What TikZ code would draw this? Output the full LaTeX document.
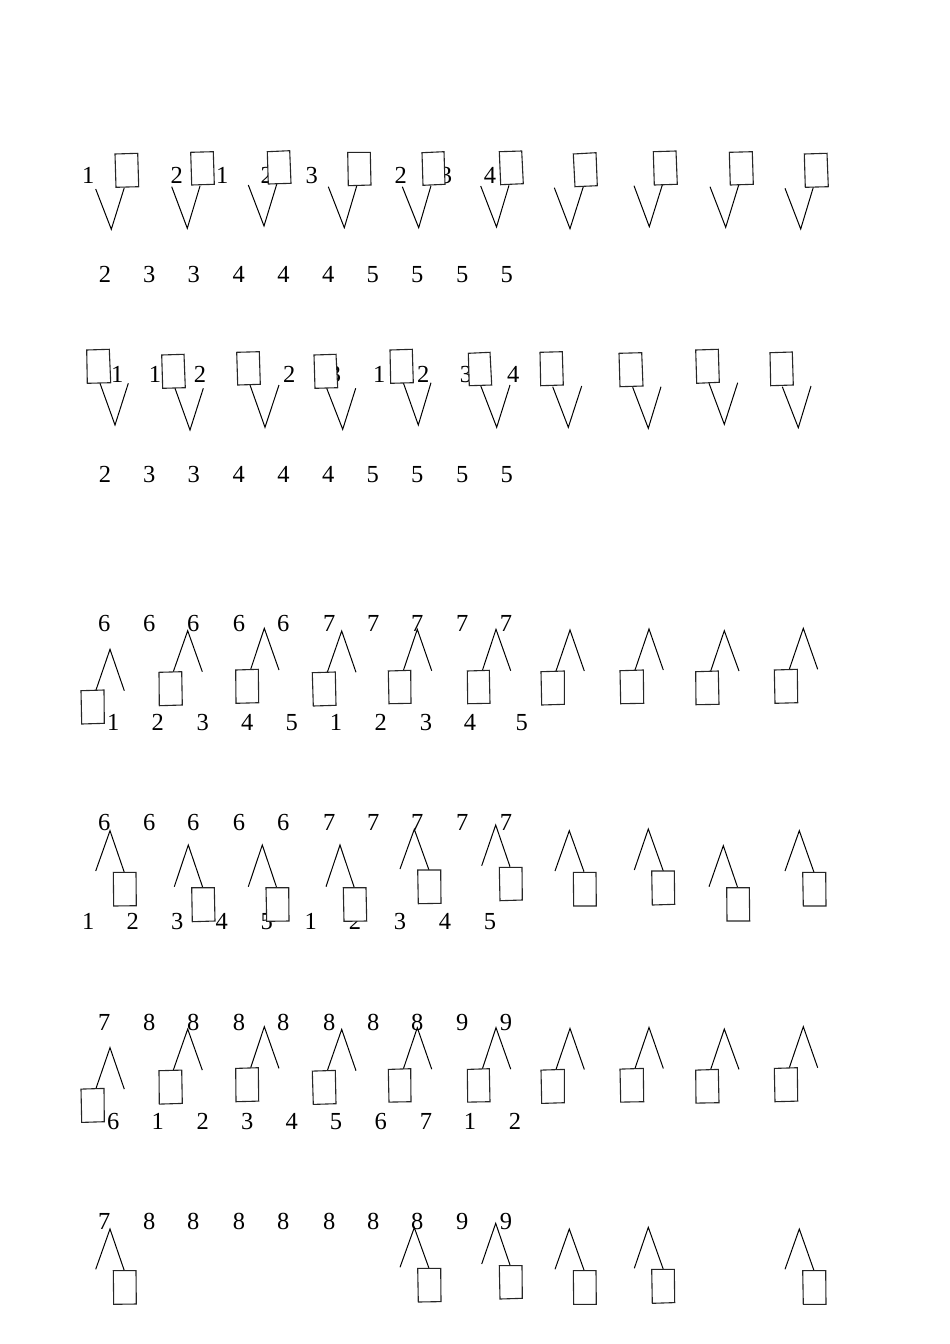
\documentclass[tikz,border=0pt]{standalone}
\usepackage{fontspec}
\setmainfont{Liberation Serif}
\newcommand{\myrect}[4]{\draw[boxst] #1 -- #2 -- #3 -- #4 -- cycle;}
\newcommand{\myvee}[3]{\draw[veest] #1 -- #2 -- #3;}
\newcommand{\labrow}[3]{\foreach \xx/\tt [count=\i] in {#3} {\node[lab] (#1-\i) at (\xx,#2) {\tt};}}
\begin{document}
\begin{tikzpicture}[x=1pt,y=-1pt,
  lab/.style={anchor=base,inner sep=0pt,font=\fontsize{24.5}{29}\selectfont},
  boxst/.style={draw=black!85,line width=1.1pt,fill=white},
  veest/.style={draw=black,line width=1pt}]
\useasboundingbox[fill=white] (0,0) rectangle (950,1344);
% ---------- labels ----------
\labrow{ta}{183}{88.3/1,176.7/2,222.3/1,266.7/2,311.7/3,400.7/2,446/3,490/4}
\labrow{ba}{282}{105/2,149.3/3,193.7/3,238.7/4,283.5/4,328.3/4,372.7/5,417.3/5,462.3/5,506.7/5}
\labrow{tb}{382}{117.3/1,155/1,200/2,289.3/2,335/3,379.3/1,423.3/2,466/3,513.3/4}
\labrow{bb}{482}{105/2,149.3/3,193.7/3,238.7/4,283.5/4,328.3/4,372.7/5,417.3/5,462.3/5,506.7/5}
\labrow{tc}{631}{104.3/6,149.3/6,193.3/6,239/6,283.3/6,329.3/7,373.3/7,417.3/7,462.3/7,506/7}
\labrow{bc}{730}{113.3/1,157.7/2,202.7/3,247.3/4,291.7/5,336/1,380.7/2,426/3,470/4,521.7/5}
\labrow{td}{830}{104.3/6,149.3/6,193.3/6,239/6,283.3/6,329.3/7,373.3/7,417.3/7,462.3/7,506/7}
\labrow{bd}{929}{88.3/1,132.7/2,177.3/3,221.7/4,266.7/5,310.7/1,355/2,400/3,445/4,490/5}
\labrow{te}{1030}{104.3/7,149.3/8,193.3/8,239/8,283.3/8,329.3/8,373.3/8,417.3/8,462.3/9,506/9}
\labrow{be}{1129.3}{113.3/6,157.7/1,202.7/2,247.3/3,291.7/4,336/5,380.7/6,426/7,470/1,515/2}
\labrow{tf}{1229}{104.3/7,149.3/8,193.3/8,239/8,283.3/8,329.3/8,373.3/8,417.3/8,462.3/9,506/9}
% ---------- row 1 ----------
\myvee{(95.7,189)}{(111.3,229.3)}{(124.3,187.7)}\myrect{(115,154)}{(137.7,153.3)}{(138.7,186.7)}{(116,187.3)}
\myvee{(171.7,186.7)}{(187.3,228.3)}{(200,186)}\myrect{(190.7,152.3)}{(213.3,151.7)}{(214.3,184.3)}{(191.7,185)}
\myvee{(248.3,185)}{(264,226)}{(276.7,184.3)}\myrect{(267.3,151.7)}{(289.7,150.7)}{(291,183.3)}{(268.3,184)}
\myvee{(328.3,186.7)}{(344.3,227.7)}{(356.7,186)}\myrect{(347.7,152.3)}{(370.3,152.3)}{(371,185)}{(348.3,185.7)}
\myvee{(402.3,186.7)}{(418.7,227.7)}{(431,185.7)}\myrect{(422,152.7)}{(444,151.7)}{(445,184.3)}{(423,185.3)}
\myvee{(480.7,186)}{(496.5,227)}{(509,185.3)}\myrect{(499.3,151.7)}{(521.7,151)}{(523.3,183.7)}{(500.7,184.7)}
\myvee{(554.3,187.7)}{(570,228.7)}{(583.3,186.7)}\myrect{(573.3,154)}{(596,152.7)}{(597.3,185.7)}{(575,186.7)}
\myvee{(634,185.7)}{(649.3,226.7)}{(662.3,185)}\myrect{(653.3,151.7)}{(676,151)}{(677.3,184.3)}{(654.3,185)}
\myvee{(710,186.7)}{(725.7,227.3)}{(738.7,185)}\myrect{(729.3,152.3)}{(752.3,151.7)}{(753.3,184.3)}{(730.3,185)}
\myvee{(785,188.3)}{(800.7,229)}{(813.3,187.3)}\myrect{(804.3,154)}{(827,153.3)}{(828.3,186.7)}{(805.3,187.3)}
% ---------- row 2 ----------
\myvee{(100,383.3)}{(115,425)}{(128.3,383.3)}\myrect{(86.7,350)}{(109.3,349.3)}{(110.7,382.7)}{(87.3,383.3)}
\myvee{(175,388.3)}{(190,430)}{(203.3,388.3)}\myrect{(161.7,355)}{(184,354.3)}{(185.3,387.7)}{(162.7,388.3)}
\myvee{(250,385)}{(265,427.3)}{(279,385)}\myrect{(236.7,352.3)}{(259.3,351.7)}{(260.3,384.3)}{(237.7,385)}
\myvee{(326.7,388.3)}{(342.7,429.3)}{(355.7,388.3)}\myrect{(314,355)}{(336,354.3)}{(337.7,387.7)}{(315,388.3)}
\myvee{(403.3,382.7)}{(418.3,425)}{(431,382.7)}\myrect{(390,350)}{(412.3,349.3)}{(413.3,382.7)}{(390.7,383.3)}
\myvee{(480.7,385.7)}{(496.7,427.3)}{(510,385)}\myrect{(468.3,353.3)}{(490,352.3)}{(491.7,385)}{(469.3,385.7)}
\myvee{(552.7,386.7)}{(568.3,427.3)}{(581.7,386)}\myrect{(540,352.3)}{(562.3,351.7)}{(563.3,385)}{(540.7,385.7)}
\myvee{(632.7,387.3)}{(648.3,428.3)}{(661,386.7)}\myrect{(619,353.3)}{(641.7,352.7)}{(643,386)}{(620,386.7)}
\myvee{(709,383.3)}{(724.3,424.3)}{(737.7,382.7)}\myrect{(695.7,350)}{(718.3,349.3)}{(719.3,382.3)}{(696.7,383.3)}
\myvee{(782.3,386.7)}{(798.3,427.7)}{(811,386)}\myrect{(770,352.7)}{(792.3,352)}{(793.3,385)}{(770.7,385.7)}
% ---------- rows 3 and 5 ----------
\foreach \dy in {0,398.4} {
\begin{scope}[shift={(0,\dy)}]
\myvee{(96,690)}{(110,649.3)}{(124.3,690.7)}\myrect{(81,690.7)}{(104,690)}{(104.3,723.3)}{(81.7,724)}
\myvee{(173.3,671.7)}{(187.7,630.7)}{(202.3,671.7)}\myrect{(159,672.3)}{(181.7,671.7)}{(182.3,705)}{(159.3,705.7)}
\myvee{(250.7,669.3)}{(264.3,628.3)}{(279,670)}\myrect{(235.7,670)}{(258.3,669.3)}{(258.7,702.7)}{(236,703.3)}
\myvee{(327.3,672.3)}{(341.7,631)}{(356,672.3)}\myrect{(312.3,672.7)}{(335.3,672)}{(336,705.3)}{(313.3,706)}
\myvee{(403.3,670.7)}{(417.3,629.3)}{(431.7,670.7)}\myrect{(388.3,671)}{(410.7,670.3)}{(411,703.3)}{(389,703.7)}
\myvee{(482.3,670.7)}{(496,629.3)}{(510.7,670.7)}\myrect{(467.3,671)}{(489.3,670.3)}{(490,703.3)}{(467.7,703.7)}
\myvee{(556,671)}{(570,630)}{(584.3,671)}\myrect{(541,671.7)}{(564.3,671)}{(564.3,704.3)}{(541.7,705)}
\myvee{(635,670)}{(649,629)}{(663.3,670)}\myrect{(620,670.7)}{(643.3,670)}{(643.7,703.3)}{(620.7,703.7)}
\myvee{(710.7,671)}{(724.3,630.7)}{(739,671)}\myrect{(695.7,671.7)}{(718.3,671)}{(719,704.3)}{(696,704.7)}
\myvee{(789.3,669.3)}{(803.3,628.3)}{(817.7,669.3)}\myrect{(774.3,670)}{(797.3,669.3)}{(797.7,702.7)}{(775,703.3)}
\end{scope}
}
% ---------- row 4 ----------
\myvee{(95.7,871)}{(110,830.7)}{(124.3,872.3)}\myrect{(113.3,872.3)}{(136,872.3)}{(136.3,905.7)}{(113.7,906)}
\myvee{(174.3,886.7)}{(188.3,845)}{(202.7,887.3)}\myrect{(191.7,887.7)}{(214.3,887.7)}{(215,921)}{(192.3,921.7)}
\myvee{(248.3,886.7)}{(262.3,845)}{(276.7,887.7)}\myrect{(266,887.7)}{(288.7,887.7)}{(289,921)}{(266.7,921.3)}
\myvee{(326,886.7)}{(340,845)}{(354.3,887.7)}\myrect{(343.3,887.7)}{(366,887.7)}{(366.7,921)}{(344,921.3)}
\myvee{(400,869)}{(414.3,829.3)}{(429,870)}\myrect{(417.7,870)}{(440.7,870)}{(441,903.3)}{(418.3,903.7)}
\myvee{(481.7,865.7)}{(495.7,825)}{(510,866.7)}\myrect{(499.3,867.3)}{(522,867.3)}{(522.3,900)}{(500,900.7)}
\myvee{(555,871)}{(569.3,830.7)}{(584,871.7)}\myrect{(573.3,872.3)}{(596,872.3)}{(596.3,906)}{(573.7,906)}
\myvee{(634.3,870)}{(648.3,829)}{(663.3,871)}\myrect{(651.7,871)}{(674.3,871)}{(674.7,904.3)}{(652.3,905)}
\myvee{(709,886.7)}{(723.3,845.7)}{(737.7,887.7)}\myrect{(726.7,887.7)}{(749.3,887.7)}{(749.7,921)}{(727,921)}
\myvee{(785,871)}{(799.3,830.7)}{(814,872.3)}\myrect{(802.7,872.3)}{(825.7,872.3)}{(826,906)}{(803.3,906)}
% ---------- row 6 ----------
\begin{scope}[shift={(0,398.3)}]
\myvee{(95.7,871)}{(110,830.7)}{(124.3,872.3)}\myrect{(113.3,872.3)}{(136,872.3)}{(136.3,905.7)}{(113.7,906)}
\myvee{(400,869)}{(414.3,829.3)}{(429,870)}\myrect{(417.7,870)}{(440.7,870)}{(441,903.3)}{(418.3,903.7)}
\myvee{(481.7,865.7)}{(495.7,825)}{(510,866.7)}\myrect{(499.3,867.3)}{(522,867.3)}{(522.3,900)}{(500,900.7)}
\myvee{(555,871)}{(569.3,830.7)}{(584,871.7)}\myrect{(573.3,872.3)}{(596,872.3)}{(596.3,906)}{(573.7,906)}
\myvee{(634.3,870)}{(648.3,829)}{(663.3,871)}\myrect{(651.7,871)}{(674.3,871)}{(674.7,904.3)}{(652.3,905)}
\myvee{(785,871)}{(799.3,830.7)}{(814,872.3)}\myrect{(802.7,872.3)}{(825.7,872.3)}{(826,906)}{(803.3,906)}
\end{scope}
\end{tikzpicture}
\end{document}
